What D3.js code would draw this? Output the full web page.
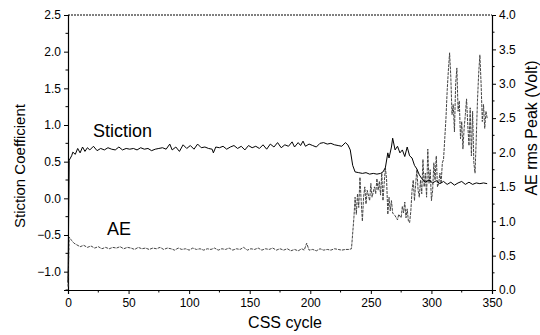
<!DOCTYPE html>
<html>
<head>
<meta charset="utf-8">
<script src="https://cdn.jsdelivr.net/npm/d3@7"></script>
<style>
  body { margin: 0; background: #fff; }
  svg text { font-family: "Liberation Sans", Arial, sans-serif; fill: #000; }
</style>
</head>
<body>
<div id="chart"></div>
<script>
// Valeurs
const stictionCycle = [0, 1, 3, 4, 6, 8, 10, 12, 14, 16, 18, 21, 24, 27, 30, 33, 36, 39, 42, 45, 48, 51, 54, 57, 60, 63, 66, 69, 72, 75, 78, 81, 84, 86, 89, 92, 95, 98, 101, 104, 107, 110, 113, 116, 119, 120, 122, 125, 128, 131, 134, 137, 140, 143, 146, 149, 152, 155, 158, 161, 164, 167, 170, 173, 176, 179, 182, 185, 187, 190, 192, 194, 196, 199, 202, 205, 208, 211, 214, 217, 220, 223, 226, 229, 231, 233, 235, 237, 240, 243, 246, 249, 252, 255, 258, 260, 262, 264, 265, 267, 268, 270, 272, 274, 276, 278, 280, 282, 284, 286, 288, 290, 292, 295, 298, 301, 304, 307, 310, 313, 316, 319, 322, 325, 328, 331, 334, 337, 340, 343, 346];
const stictionCoef = [-1.15, 0.52, 0.58, 0.63, 0.60, 0.68, 0.62, 0.70, 0.64, 0.69, 0.66, 0.71, 0.65, 0.68, 0.66, 0.69, 0.67, 0.66, 0.70, 0.66, 0.68, 0.67, 0.68, 0.66, 0.69, 0.67, 0.68, 0.65, 0.67, 0.68, 0.69, 0.67, 0.74, 0.66, 0.70, 0.64, 0.73, 0.68, 0.72, 0.67, 0.74, 0.69, 0.70, 0.68, 0.67, 0.62, 0.70, 0.69, 0.71, 0.67, 0.70, 0.72, 0.68, 0.71, 0.66, 0.72, 0.69, 0.71, 0.68, 0.73, 0.67, 0.74, 0.70, 0.76, 0.69, 0.73, 0.71, 0.77, 0.70, 0.76, 0.72, 0.78, 0.71, 0.74, 0.72, 0.70, 0.75, 0.76, 0.74, 0.75, 0.73, 0.72, 0.71, 0.76, 0.73, 0.66, 0.45, 0.36, 0.35, 0.34, 0.35, 0.33, 0.34, 0.33, 0.34, 0.36, 0.42, 0.62, 0.55, 0.70, 0.82, 0.66, 0.71, 0.62, 0.66, 0.57, 0.70, 0.58, 0.55, 0.45, 0.40, 0.32, 0.27, 0.22, 0.25, 0.21, 0.24, 0.20, 0.23, 0.19, 0.22, 0.18, 0.21, 0.23, 0.19, 0.22, 0.19, 0.21, 0.20, 0.21, 0.20];

const aeCycle = [0, 1, 3, 5, 7, 10, 13, 16, 19, 22, 25, 28, 31, 34, 37, 40, 43, 46, 49, 52, 55, 58, 61, 64, 67, 70, 73, 76, 79, 82, 85, 88, 91, 94, 97, 100, 103, 106, 109, 112, 115, 118, 121, 124, 127, 130, 133, 136, 139, 142, 145, 148, 151, 154, 157, 160, 163, 166, 169, 172, 175, 178, 181, 184, 187, 190, 193, 195, 197, 199, 202, 205, 208, 211, 214, 217, 220, 223, 226, 229, 232, 234, 236, 237, 238, 239, 240, 241, 242, 243, 244, 245, 246, 247, 249, 250, 251, 253, 254, 255, 256, 257, 258, 259, 260, 261, 262, 263, 264, 265, 266, 267, 268, 270, 272, 273, 275, 276, 277, 278, 279, 280, 281, 282, 283, 284, 285, 286, 287, 288, 289, 290, 291, 292, 293, 294, 295, 296, 297, 298, 299, 300, 301, 302, 303, 304, 305, 306, 307, 308, 309, 310, 311, 312, 313, 314, 315, 316, 317, 318, 319, 320, 321, 322, 323, 324, 325, 326, 327, 328, 329, 330, 331, 332, 333, 334, 335, 336, 337, 338, 339, 340, 341, 342, 343, 344, 345, 346];
const aeVolt = [0.05, 0.77, 0.72, 0.68, 0.66, 0.63, 0.65, 0.62, 0.64, 0.61, 0.63, 0.60, 0.62, 0.60, 0.62, 0.61, 0.63, 0.60, 0.62, 0.61, 0.59, 0.62, 0.60, 0.61, 0.59, 0.61, 0.60, 0.62, 0.59, 0.61, 0.60, 0.58, 0.61, 0.59, 0.60, 0.58, 0.61, 0.59, 0.60, 0.58, 0.60, 0.59, 0.61, 0.58, 0.60, 0.59, 0.61, 0.58, 0.60, 0.59, 0.62, 0.58, 0.60, 0.59, 0.61, 0.58, 0.60, 0.59, 0.61, 0.58, 0.60, 0.58, 0.60, 0.57, 0.59, 0.57, 0.60, 0.58, 0.68, 0.58, 0.59, 0.57, 0.60, 0.58, 0.59, 0.58, 0.60, 0.59, 0.58, 0.59, 0.59, 0.60, 1.05, 1.35, 1.10, 1.40, 1.20, 1.64, 1.30, 1.00, 1.35, 1.50, 1.25, 1.45, 1.30, 1.55, 1.35, 1.50, 1.40, 1.62, 1.45, 1.58, 1.38, 1.70, 1.30, 1.55, 1.78, 1.60, 1.10, 1.35, 1.15, 1.30, 1.12, 1.08, 1.02, 1.10, 1.05, 1.22, 1.12, 1.28, 1.05, 1.18, 1.00, 0.98, 1.15, 1.45, 1.60, 1.30, 1.55, 1.75, 1.45, 1.35, 1.60, 1.40, 1.90, 1.50, 1.70, 1.35, 2.05, 1.55, 1.75, 1.30, 1.45, 1.85, 1.60, 1.95, 1.50, 1.55, 1.70, 1.55, 1.85, 1.90, 2.20, 2.50, 2.90, 3.20, 3.45, 3.10, 2.55, 2.70, 2.30, 3.00, 3.23, 2.60, 2.75, 2.20, 2.45, 2.05, 2.35, 2.55, 2.78, 2.40, 2.10, 2.65, 1.95, 2.60, 1.85, 1.70, 2.20, 2.75, 3.15, 3.42, 3.00, 2.45, 2.70, 2.35, 2.60, 2.50, 2.55];

const xTicks = [0, 50, 100, 150, 200, 250, 300, 350];
const leftTicks = [-1.0, -0.5, 0.0, 0.5, 1.0, 1.5, 2.0, 2.5];
const rightTicks = [0.0, 0.5, 1.0, 1.5, 2.0, 2.5, 3.0, 3.5, 4.0];

// Dimensions
const W = 540, H = 335;
const margin = { top: 15, right: 48, bottom: 45, left: 68 };

const svg = d3.select("#chart").append("svg")
    .attr("width", W)
    .attr("height", H);

// Échelles
const x = d3.scaleLinear().domain([0, 350]).range([margin.left, W - margin.right]);
const yL = d3.scaleLinear().domain([-1.25, 2.5]).range([H - margin.bottom, margin.top]);
const yR = d3.scaleLinear().domain([0, 4]).range([H - margin.bottom, margin.top]);

const fmt = d3.format(".1f");

// Axes
const gx = svg.append("g")
    .attr("transform", "translate(0," + (H - margin.bottom) + ")")
    .call(d3.axisBottom(x).tickValues(xTicks).tickFormat(d3.format("d")).tickSize(4).tickPadding(4));

const gl = svg.append("g")
    .attr("transform", "translate(" + margin.left + ",0)")
    .call(d3.axisLeft(yL).tickValues(leftTicks).tickFormat(fmt).tickSize(4).tickPadding(3));

const gr = svg.append("g")
    .attr("transform", "translate(" + (W - margin.right) + ",0)")
    .call(d3.axisRight(yR).tickValues(rightTicks).tickFormat(fmt).tickSize(4).tickPadding(3));

[gx, gl, gr].forEach(g => {
    g.select(".domain").attr("stroke", "#000").attr("stroke-width", 1.2);
    g.selectAll(".tick line").attr("stroke", "#000");
    g.selectAll(".tick text").style("font-size", "12px").attr("fill", "#000");
});

// Petites graduations
svg.append("g").selectAll("line")
    .data(d3.range(25, 350, 50))
    .enter().append("line")
    .attr("x1", d => x(d)).attr("x2", d => x(d))
    .attr("y1", H - margin.bottom).attr("y2", H - margin.bottom + 2.5)
    .attr("stroke", "#000");

svg.append("g").selectAll("line")
    .data(d3.range(-1.25, 2.5, 0.5))
    .enter().append("line")
    .attr("x1", margin.left - 2.5).attr("x2", margin.left)
    .attr("y1", d => yL(d)).attr("y2", d => yL(d))
    .attr("stroke", "#000");

svg.append("g").selectAll("line")
    .data(d3.range(0.25, 4, 0.5))
    .enter().append("line")
    .attr("x1", W - margin.right).attr("x2", W - margin.right + 2.5)
    .attr("y1", d => yR(d)).attr("y2", d => yR(d))
    .attr("stroke", "#000");

// Bordure haute
svg.append("line")
    .attr("x1", margin.left).attr("x2", W - margin.right)
    .attr("y1", margin.top).attr("y2", margin.top)
    .attr("stroke", "#000")
    .attr("stroke-width", 1)
    .attr("stroke-dasharray", "2,1");

// Courbes
const stictionLine = d3.line()
    .x((d, i) => x(stictionCycle[i]))
    .y(d => yL(d));

const aeLine = d3.line()
    .x((d, i) => x(aeCycle[i]))
    .y(d => yR(d));

svg.append("path")
    .datum(aeVolt)
    .attr("d", aeLine)
    .attr("fill", "none")
    .attr("stroke", "#444")
    .attr("stroke-width", 1)
    .attr("stroke-dasharray", "3,1");

svg.append("path")
    .datum(stictionCoef)
    .attr("d", stictionLine)
    .attr("fill", "none")
    .attr("stroke", "#000")
    .attr("stroke-width", 1);

// Libellés
svg.append("text")
    .attr("x", 93).attr("y", 137)
    .style("font-size", "18px")
    .text("Stiction");

svg.append("text")
    .attr("x", 107).attr("y", 235)
    .style("font-size", "18px")
    .text("AE");

svg.append("text")
    .attr("x", 285).attr("y", 328)
    .attr("text-anchor", "middle")
    .style("font-size", "16px")
    .text("CSS cycle");

svg.append("text")
    .attr("transform", "translate(25,166) rotate(-90)")
    .attr("text-anchor", "middle")
    .style("font-size", "15px")
    .text("Stiction Coefficient");

svg.append("text")
    .attr("transform", "translate(537,128) rotate(-90)")
    .attr("text-anchor", "middle")
    .style("font-size", "16px")
    .text("AE rms Peak (Volt)");
</script>
</body>
</html>
